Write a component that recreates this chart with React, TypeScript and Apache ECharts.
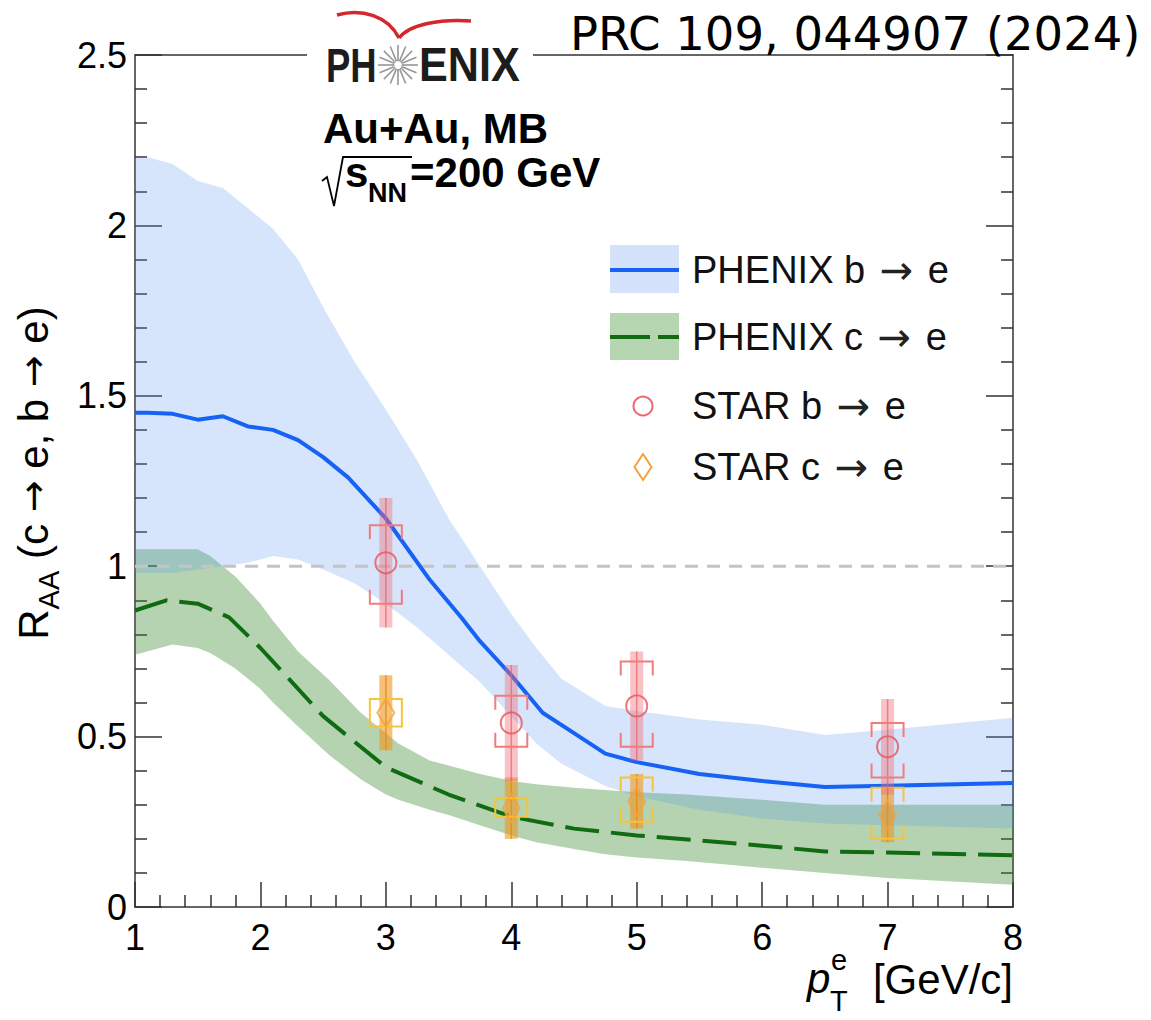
import React, { useEffect, useRef } from "react";
import * as echarts from "echarts";

// ---------------- data ----------------
// PHENIX b -> e band and central curve
const bBandX = [1.0, 1.1, 1.3, 1.5, 1.7, 1.9, 2.1, 2.3, 2.5, 2.75, 3.0, 3.25, 3.5, 3.75, 4.0, 4.2, 4.4, 4.75, 5.0, 5.5, 6.0, 6.5, 7.0, 8.0];
const bUpper = [2.2, 2.2, 2.18, 2.13, 2.11, 2.05, 1.99, 1.9, 1.76, 1.6, 1.46, 1.31, 1.14, 1.0, 0.86, 0.76, 0.67, 0.59, 0.575, 0.55, 0.535, 0.505, 0.52, 0.555];
const bLower = [0.98, 0.98, 0.98, 0.99, 1.0, 1.01, 1.03, 1.02, 0.99, 0.95, 0.89, 0.82, 0.74, 0.66, 0.56, 0.48, 0.42, 0.355, 0.325, 0.285, 0.26, 0.245, 0.24, 0.23];
const bLineX = [1.0, 1.1, 1.3, 1.5, 1.7, 1.9, 2.1, 2.3, 2.5, 2.7, 3.0, 3.35, 3.6, 3.75, 4.0, 4.25, 4.5, 4.75, 5.0, 5.5, 6.0, 6.5, 7.0, 8.0];
const bLine = [1.45, 1.45, 1.447, 1.43, 1.44, 1.41, 1.4, 1.37, 1.32, 1.26, 1.14, 0.96, 0.85, 0.78, 0.68, 0.57, 0.51, 0.45, 0.425, 0.39, 0.37, 0.352, 0.356, 0.364];

// PHENIX c -> e band and central curve
const cBandX = [1.0, 1.3, 1.5, 1.6, 1.8, 2.0, 2.1, 2.3, 2.55, 2.8, 3.0, 3.1, 3.35, 3.5, 3.75, 4.0, 4.2, 4.5, 4.75, 5.0, 5.4, 6.0, 6.5, 7.0, 8.0];
const cUpper = [1.05, 1.05, 1.05, 1.03, 0.97, 0.89, 0.84, 0.75, 0.665, 0.57, 0.51, 0.48, 0.43, 0.415, 0.39, 0.37, 0.36, 0.35, 0.343, 0.337, 0.33, 0.315, 0.3, 0.3, 0.3];
const cLower = [0.74, 0.77, 0.76, 0.745, 0.7, 0.64, 0.6, 0.53, 0.445, 0.375, 0.33, 0.315, 0.285, 0.27, 0.24, 0.21, 0.19, 0.17, 0.155, 0.145, 0.135, 0.115, 0.1, 0.085, 0.065];
const cLineX = [1.0, 1.25, 1.5, 1.75, 2.0, 2.5, 3.0, 3.5, 4.0, 4.5, 5.0, 5.5, 6.0, 6.5, 7.0, 8.0];
const cLine = [0.87, 0.9, 0.89, 0.85, 0.76, 0.56, 0.41, 0.33, 0.265, 0.23, 0.21, 0.195, 0.18, 0.163, 0.16, 0.152];

// STAR points
const starX = [3, 4, 5, 7];
const starB = [1.01, 0.54, 0.59, 0.47];
const starBStatLo = [0.82, 0.37, 0.43, 0.33];
const starBStatHi = [1.2, 0.71, 0.75, 0.61];
const starBSysLo = [0.89, 0.47, 0.47, 0.38];
const starBSysHi = [1.12, 0.62, 0.72, 0.54];
const starC = [0.57, 0.29, 0.31, 0.27];
const starCStatLo = [0.46, 0.2, 0.23, 0.19];
const starCStatHi = [0.68, 0.38, 0.39, 0.35];
const starCSysLo = [0.53, 0.265, 0.25, 0.2];
const starCSysHi = [0.61, 0.32, 0.38, 0.35];

const xTicksMin = 1;
const xTicksMax = 8;
const yTicksMin = 0;
const yTicksMax = 2.5;

const legendLabels = ["PHENIX b \u2192 e", "PHENIX c \u2192 e", "STAR b \u2192 e", "STAR c \u2192 e"];

// ---------------- helpers ----------------
const FONT = "Liberation Sans, Arial, sans-serif";

function withArrows(s: string, base: string) {
  return s
    .split("\u2192")
    .map((part) => (part ? `{${base}|${part}}` : ""))
    .join("{a|\u2192}");
}

function bandSeries(xs: number[], up: number[], lo: number[], fill: string, z: number) {
  return {
    type: "custom",
    silent: true,
    z,
    clip: true,
    data: [[xs[0], up[0]]],
    renderItem: (_p: any, api: any) => {
      const pts: number[][] = [];
      for (let i = 0; i < xs.length; i++) pts.push(api.coord([xs[i], up[i]]));
      for (let i = xs.length - 1; i >= 0; i--) pts.push(api.coord([xs[i], lo[i]]));
      return { type: "polygon", shape: { points: pts }, style: { fill } };
    },
  };
}

function errSeries(
  ys: number[], sLo: number[], sHi: number[], yLo: number[], yHi: number[],
  barFill: string, lineColor: string, boxColor: string, z: number
) {
  const data = starX.map((x, i) => [x, ys[i], sLo[i], sHi[i], yLo[i], yHi[i]]);
  return {
    type: "custom",
    silent: true,
    z,
    data,
    renderItem: (_p: any, api: any) => {
      const x = api.value(0);
      const st = api.coord([x, api.value(3)]);
      const sb = api.coord([x, api.value(2)]);
      const yt = api.coord([x, api.value(5)]);
      const yb = api.coord([x, api.value(4)]);
      const cx = st[0];
      const hw = 16;
      const tick = Math.min(14, (yb[1] - yt[1]) / 2);
      return {
        type: "group",
        children: [
          { type: "rect", shape: { x: cx - 6.5, y: st[1], width: 13, height: sb[1] - st[1] }, style: { fill: barFill } },
          { type: "line", shape: { x1: cx, y1: st[1], x2: cx, y2: sb[1] }, style: { stroke: lineColor, lineWidth: 1.5 } },
          {
            type: "polyline",
            shape: { points: [[cx - hw, yt[1] + tick], [cx - hw, yt[1]], [cx + hw, yt[1]], [cx + hw, yt[1] + tick]] },
            style: { stroke: boxColor, lineWidth: 2, fill: "none" },
          },
          {
            type: "polyline",
            shape: { points: [[cx - hw, yb[1] - tick], [cx - hw, yb[1]], [cx + hw, yb[1]], [cx + hw, yb[1] - tick]] },
            style: { stroke: boxColor, lineWidth: 2, fill: "none" },
          },
        ],
      };
    },
  };
}

function zip(xs: number[], ys: number[]) {
  return xs.map((x, i) => [x, ys[i]]);
}

export default function App() {
  const ref = useRef<HTMLDivElement>(null);

  useEffect(() => {
    const chart = echarts.init(ref.current!, null, { renderer: "svg" });

    const starCenter = [398, 65];
    const spokes: any[] = [];
    for (let k = 0; k < 16; k++) {
      const a = (k * Math.PI) / 8;
      spokes.push({
        type: "line",
        z: 100,
        shape: {
          x1: starCenter[0] + 5 * Math.cos(a),
          y1: starCenter[1] + 5 * Math.sin(a),
          x2: starCenter[0] + 20 * Math.cos(a),
          y2: starCenter[1] + 20 * Math.sin(a),
        },
        style: { stroke: "#979797", lineWidth: 1.6 },
      });
    }

    const axisCommon = {
      axisLine: { show: true, onZero: false, lineStyle: { color: "#333", width: 1.5 } },
      splitLine: { show: false },
    };

    const option: any = {
      animation: false,
      backgroundColor: "#fff",
      grid: { left: 135, right: 138, top: 55, bottom: 113, containLabel: false },
      xAxis: [
        {
          type: "value",
          min: xTicksMin,
          max: xTicksMax,
          interval: 1,
          position: "bottom",
          ...axisCommon,
          axisTick: { show: true, inside: true, length: 25, lineStyle: { color: "#333", width: 1.5 } },
          minorTick: { show: true, splitNumber: 5, length: 12, lineStyle: { color: "#333", width: 1.5 } },
          axisLabel: {
            show: true, fontSize: 36, lineHeight: 28, fontFamily: FONT, color: "#000", margin: 16,
            showMinLabel: true, showMaxLabel: true,
          },
        },
        {
          type: "value",
          min: xTicksMin,
          max: xTicksMax,
          interval: 1,
          position: "top",
          ...axisCommon,
          axisTick: { show: false },
          axisLabel: { show: false },
        },
      ],
      yAxis: [
        {
          type: "value",
          min: yTicksMin,
          max: yTicksMax,
          interval: 0.5,
          position: "left",
          ...axisCommon,
          axisTick: { show: true, inside: true, length: 27, lineStyle: { color: "#333", width: 1.5 } },
          minorTick: { show: true, splitNumber: 5, length: 12, lineStyle: { color: "#333", width: 1.5 } },
          axisLabel: { show: true, fontSize: 36, fontFamily: FONT, color: "#000", margin: 8, showMinLabel: true, showMaxLabel: true },
        },
        {
          type: "value",
          min: yTicksMin,
          max: yTicksMax,
          interval: 0.5,
          position: "right",
          ...axisCommon,
          axisTick: { show: true, inside: true, length: 27, lineStyle: { color: "#333", width: 1.5 } },
          minorTick: { show: true, splitNumber: 5, length: 12, lineStyle: { color: "#333", width: 1.5 } },
          axisLabel: { show: false },
        },
      ],
      series: [
        bandSeries(cBandX, cUpper, cLower, "rgba(60,140,50,0.38)", 1),
        bandSeries(bBandX, bUpper, bLower, "rgba(90,150,240,0.25)", 2),
        {
          type: "line",
          z: 3,
          silent: true,
          data: [[xTicksMin, 1], [xTicksMax, 1]],
          showSymbol: false,
          lineStyle: { color: "#c4c4c4", width: 3, type: [13, 9] },
        },
        {
          type: "line",
          z: 4,
          silent: true,
          data: zip(cLineX, cLine),
          showSymbol: false,
          lineStyle: { color: "#106b12", width: 4, type: [34, 12], cap: "butt" },
        },
        {
          type: "line",
          z: 4,
          silent: true,
          data: zip(bLineX, bLine),
          showSymbol: false,
          lineStyle: { color: "#1562f5", width: 4 },
        },
        errSeries(starC, starCStatLo, starCStatHi, starCSysLo, starCSysHi, "rgba(238,150,30,0.6)", "rgba(240,140,20,0.9)", "#f6c43a", 5),
        errSeries(starB, starBStatLo, starBStatHi, starBSysLo, starBSysHi, "rgba(240,110,120,0.42)", "rgba(235,95,105,0.7)", "#f07c7c", 6),
        {
          type: "scatter",
          z: 7,
          silent: true,
          data: zip(starX, starC),
          symbol: "diamond",
          symbolSize: [17, 28],
          itemStyle: { color: "rgba(0,0,0,0)", borderColor: "#f5a03c", borderWidth: 2 },
        },
        {
          type: "scatter",
          z: 7,
          silent: true,
          data: zip(starX, starB),
          symbol: "circle",
          symbolSize: 21,
          itemStyle: { color: "rgba(0,0,0,0)", borderColor: "#e8545e", borderWidth: 2 },
        },
      ],
      graphic: [
        // gap in the top frame for the logo
        { type: "rect", z: 100, shape: { x: 307, y: 48, width: 226, height: 14 }, style: { fill: "#fff" } },
        // logo swoosh
        {
          type: "bezierCurve", z: 100,
          shape: { x1: 337, y1: 15, cpx1: 362, cpy1: 8, cpx2: 388, cpy2: 16, x2: 399, y2: 38 },
          style: { stroke: "#d3272c", lineWidth: 3.5, fill: "none" },
        },
        {
          type: "bezierCurve", z: 100,
          shape: { x1: 399, y1: 38, cpx1: 410, cpy1: 24, cpx2: 440, cpy2: 19, x2: 471, y2: 21 },
          style: { stroke: "#d3272c", lineWidth: 3.5, fill: "none" },
        },
        ...spokes,
        { type: "circle", z: 100, shape: { cx: starCenter[0], cy: starCenter[1], r: 4.5 }, style: { fill: "#fff", stroke: "#999", lineWidth: 1.2 } },
        {
          type: "text", z: 100, x: 326, y: 65, scaleX: 0.76,
          style: { text: "PH", fontSize: 48, fontWeight: "bold", fontFamily: FONT, fill: "#1c1c1c", verticalAlign: "middle", align: "left" },
        },
        {
          type: "text", z: 100, x: 419, y: 65, scaleX: 0.9,
          style: { text: "ENIX", fontSize: 48, fontWeight: "bold", fontFamily: FONT, fill: "#1c1c1c", verticalAlign: "middle", align: "left" },
        },
        // publication reference
        {
          type: "text", z: 100, x: 570, y: 34,
          style: { text: "PRC 109, 044907 (2024)", fontSize: 46.5, fontFamily: "DejaVu Sans", fill: "#000", verticalAlign: "middle", align: "left" },
        },
        // system labels
        {
          type: "text", z: 100, x: 323, y: 128,
          style: { text: "Au+Au, MB", fontSize: 42, fontWeight: "bold", fontFamily: FONT, fill: "#000", verticalAlign: "middle", align: "left" },
        },
        {
          type: "polyline", z: 100,
          shape: { points: [[322, 181], [327, 177], [334, 206], [343, 157], [412, 157]] },
          style: { stroke: "#000", lineWidth: 1.8, fill: "none" },
        },
        {
          type: "text", z: 100, x: 345, y: 172,
          style: { text: "s", fontSize: 42, fontWeight: "bold", fontFamily: FONT, fill: "#000", verticalAlign: "middle", align: "left" },
        },
        {
          type: "text", z: 100, x: 368, y: 193,
          style: { text: "NN", fontSize: 27, fontWeight: "bold", fontFamily: FONT, fill: "#000", verticalAlign: "middle", align: "left" },
        },
        {
          type: "text", z: 100, x: 410, y: 172,
          style: { text: "=200 GeV", fontSize: 42, fontWeight: "bold", fontFamily: FONT, fill: "#000", verticalAlign: "middle", align: "left" },
        },
        // legend
        { type: "rect", z: 100, shape: { x: 610, y: 245, width: 69, height: 48 }, style: { fill: "#d4e3fb" } },
        { type: "line", z: 100, shape: { x1: 610, y1: 270, x2: 679, y2: 270 }, style: { stroke: "#1562f5", lineWidth: 4 } },
        { type: "rect", z: 100, shape: { x: 610, y: 313, width: 69, height: 47 }, style: { fill: "#b6d5b1" } },
        { type: "line", z: 100, shape: { x1: 610, y1: 337, x2: 650, y2: 337 }, style: { stroke: "#106b12", lineWidth: 4 } },
        { type: "line", z: 100, shape: { x1: 658, y1: 337, x2: 679, y2: 337 }, style: { stroke: "#106b12", lineWidth: 4 } },
        { type: "circle", z: 100, shape: { cx: 643, cy: 406, r: 9.5 }, style: { fill: "none", stroke: "#ee6670", lineWidth: 2 } },
        {
          type: "polygon", z: 100,
          shape: { points: [[643, 454], [651.5, 467], [643, 480], [634.5, 467]] },
          style: { fill: "none", stroke: "#f5a040", lineWidth: 2 },
        },
        ...legendLabels.map((t, i) => ({
          type: "text", z: 100, x: 692, y: [270, 337, 406, 467][i],
          style: {
            text: withArrows(t, "t"),
            verticalAlign: "middle",
            align: "left",
            rich: {
              t: { fontSize: 38, fontFamily: FONT, fill: "#111", lineHeight: 44 },
              a: { fontSize: 40, fontFamily: "DejaVu Sans", fill: "#222", lineHeight: 44, padding: [0, 4, 0, 4] },
            },
          },
        })),
        // y-axis title
        {
          type: "text", z: 100, x: 33, y: 473, rotation: Math.PI / 2,
          style: {
            text: "{m|R}{s|AA}" + withArrows(" (c \u2192 e, b \u2192 e)", "m"),
            align: "center",
            verticalAlign: "middle",
            rich: {
              m: { fontSize: 42, lineHeight: 60, fontFamily: FONT, fill: "#000" },
              a: { fontSize: 38, lineHeight: 60, fontFamily: "DejaVu Sans", fill: "#000" },
              s: { fontSize: 29, lineHeight: 29, fontFamily: FONT, fill: "#000", verticalAlign: "bottom" },
            },
          },
        },
        // x-axis title
        {
          type: "text", z: 100, x: 807, y: 978,
          style: { text: "p", fontSize: 42, lineHeight: 38, fontStyle: "italic", fontFamily: FONT, fill: "#000", verticalAlign: "middle", align: "left" },
        },
        {
          type: "text", z: 100, x: 831, y: 960,
          style: { text: "e", fontSize: 29, lineHeight: 26, fontFamily: FONT, fill: "#000", verticalAlign: "middle", align: "left" },
        },
        {
          type: "text", z: 100, x: 830, y: 1001,
          style: { text: "T", fontSize: 29, lineHeight: 26, fontFamily: FONT, fill: "#000", verticalAlign: "middle", align: "left" },
        },
        {
          type: "text", z: 100, x: 1013, y: 979,
          style: { text: "[GeV/c]", fontSize: 42, lineHeight: 36, fontFamily: FONT, fill: "#000", verticalAlign: "middle", align: "right" },
        },
      ],
    };

    chart.setOption(option);
    return () => chart.dispose();
  }, []);

  return (
    <div
      ref={ref}
      style={{ position: "fixed", left: 0, top: 0, width: 1151, height: 1020, background: "#fff" }}
    />
  );
}
